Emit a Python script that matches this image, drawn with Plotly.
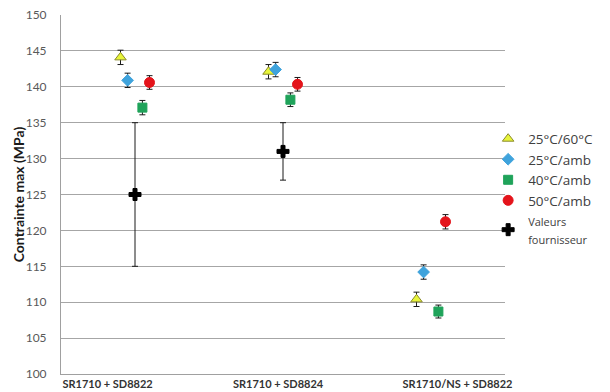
import plotly.graph_objects as go

categories = ["SR1710 + SD8822", "SR1710 + SD8824", "SR1710/NS + SD8822"]
series_names = ["25°C/60°C", "25°C/amb", "40°C/amb", "50°C/amb",
                "<span style='font-size:11px'>Valeurs<br>fournisseur</span>"]
v_25_60 = [144.1, 142.1, 110.4]
e_25_60 = [1.0, 1.0, 1.0]
v_25_amb = [140.9, 142.4, 114.2]
e_25_amb = [1.0, 1.0, 1.0]
v_40_amb = [137.1, 138.2, 108.7]
e_40_amb = [1.0, 0.95, 0.9]
v_50_amb = [140.6, 140.35, 121.2]
e_50_amb = [0.95, 0.95, 1.0]
v_fourn = [125.0, 131.0]
e_fourn = [10.0, 4.0]
y_ticks = [100, 105, 110, 115, 120, 125, 130, 135, 140, 145, 150]
y_title = "Contrainte max (MPa)"

styles = [
    dict(offset=-0.098, symbol="triangle-up", size=10, color="#e8f53a", line="#8a8a2a"),
    dict(offset=-0.050, symbol="diamond", size=9, color="#3fa3dc", line="#3fa3dc"),
    dict(offset=0.050, symbol="square", size=9, color="#1fa35a", line="#1fa35a"),
    dict(offset=0.098, symbol="circle", size=10, color="#e4141b", line="#e4141b"),
    dict(offset=0.0, symbol="cross", size=10, color="#000000", line="#000000"),
]
values = [v_25_60, v_25_amb, v_40_amb, v_50_amb, v_fourn]
errors = [e_25_60, e_25_amb, e_40_amb, e_50_amb, e_fourn]

fig = go.Figure()
for name, vals, errs, st in zip(series_names, values, errors, styles):
    xs = [i + 0.5 + st["offset"] for i in range(len(vals))]
    fig.add_trace(go.Scatter(
        x=xs, y=vals, mode="markers", name=name,
        marker=dict(symbol=st["symbol"], size=st["size"], color=st["color"],
                    line=dict(color=st["line"], width=1)),
        error_y=dict(type="data", array=errs, visible=True, color="#1a1a1a",
                     thickness=1, width=3),
    ))

fig.update_layout(
    width=610, height=392,
    margin=dict(l=61, r=100, t=15, b=18),
    paper_bgcolor="white", plot_bgcolor="white",
    font=dict(family="Lato, Open Sans, DejaVu Sans, sans-serif", color="#404040"),
    legend=dict(x=0.962, y=0.698, xanchor="left", yanchor="top",
                font=dict(size=13.5, color="#404040", family="Open Sans, Lato, sans-serif"),
                tracegroupgap=0, itemwidth=30, bgcolor="rgba(0,0,0,0)"),
    showlegend=True,
    annotations=[dict(text="<b>" + y_title + "</b>", textangle=-90, xref="paper", yref="paper",
                      x=-0.095, y=0.5, xanchor="center", yanchor="middle", showarrow=False,
                      font=dict(size=14, color="#1a1a1a"))],
)
fig.update_xaxes(
    range=[0, 3], showgrid=False, zeroline=False, automargin=False,
    tickvals=[0.315, 1.467, 2.679], ticktext=["<b>" + c + "</b>" for c in categories],
    tickfont=dict(size=11, color="#333333"), ticks="", ticklabelstandoff=0,
    showline=True, linecolor="#a0a0a0", linewidth=1,
)
fig.update_yaxes(
    range=[100, 150], tickvals=y_ticks, showgrid=True, gridcolor="#a6a6a6", gridwidth=1,
    zeroline=False, showline=True, linecolor="#a0a0a0", linewidth=1, automargin=False,
    tickfont=dict(size=12, color="#595959"), ticks="", ticklabelstandoff=11,
)
fig.write_html("out.html", config={"displayModeBar": False},
               post_script="document.body.style.margin='0';document.body.style.overflow='hidden';")
